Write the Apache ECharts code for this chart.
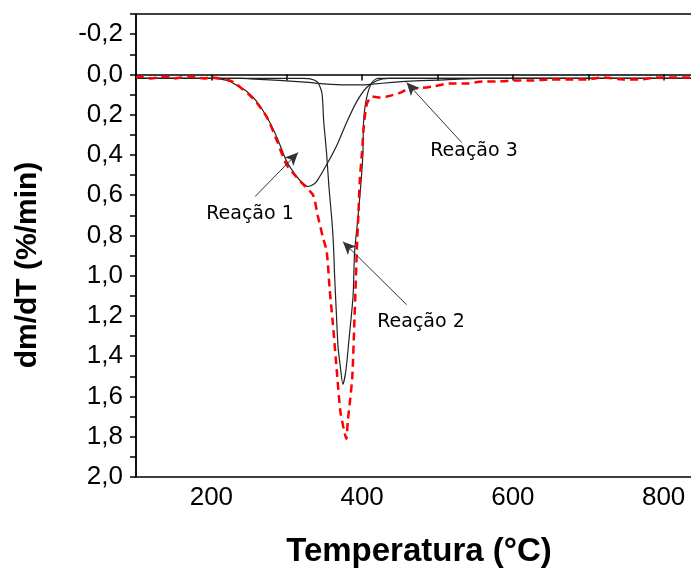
<!DOCTYPE html>
<html><head><meta charset="utf-8">
<script src="https://cdn.jsdelivr.net/npm/echarts@6/dist/echarts.min.js"></script>
<style>html,body{margin:0;padding:0;background:#fff}#c{width:691px;height:569px}</style>
</head><body><div id="c"></div>
<script>
// Experimental DTG (red dashed)
const expT = [100,110,120,130,140,150,160,170,180,190,200,210,220,230,242,250,260,274,287,300,313,324,335,341,348,353,357,361,367,371,375,379,381,384,387,390,393,395,397,400,402,406,413,424,433,450,463,470,494,516,539,560,580,605,627,649,676,698,719,746,768,791,812,836,860,900];
const expV = [0.015,0.01,0.02,0.015,0.01,0.02,0.015,0.01,0.015,0.02,0.015,0.02,0.025,0.04,0.075,0.10,0.14,0.215,0.33,0.45,0.51,0.555,0.60,0.70,0.81,0.88,1.07,1.23,1.50,1.67,1.75,1.81,1.72,1.62,1.50,1.20,0.87,0.70,0.52,0.38,0.27,0.15,0.11,0.115,0.11,0.092,0.07,0.07,0.06,0.045,0.045,0.035,0.035,0.03,0.03,0.025,0.025,0.025,0.015,0.025,0.025,0.015,0.015,0.015,0.015,0.015];
// Reação 1
const r1T = [100,200,211,225,236,247,260,274,287,300,314,321,328,334,340,353,367,380,393,406,420,435,900];
const r1V = [0.02,0.02,0.022,0.035,0.06,0.085,0.134,0.214,0.313,0.433,0.512,0.54,0.557,0.55,0.53,0.448,0.348,0.234,0.134,0.065,0.03,0.02,0.02];
// Reação 2
const r2T = [100,320,331,340,344,347,349,353,356,360,362,363.5,366,368,371,374.5,378.5,382.5,388,390,394,398,401,402,406,413,421,900];
const r2V = [0.02,0.02,0.022,0.035,0.06,0.10,0.23,0.40,0.56,0.73,0.85,1.0,1.2,1.35,1.45,1.54,1.47,1.32,1.10,0.88,0.73,0.56,0.40,0.23,0.115,0.04,0.02,0.02];
// Reação 3
const r3T = [100,240,251,290,329,350,377,400,414,440,457,500,558,900];
const r3V = [0.02,0.02,0.022,0.03,0.04,0.047,0.052,0.052,0.048,0.04,0.035,0.028,0.02,0.02];
// Annotations
const labels = ['Reação 1','Reação 2','Reação 3'];
const arrowFrom = [[258,0.607],[459,1.144],[532,0.338]];
const arrowTo = [[315,0.388],[374.5,0.831],[459,0.04]];

const zip = (a,b)=>a.map((x,i)=>[x,b[i]]);
const chart = echarts.init(document.getElementById('c'));
const blackLine = {type:'line',showSymbol:false,smooth:0.25,lineStyle:{color:'#222',width:1.2},z:3};
chart.setOption({
  animation:false,
  grid:{left:136,top:14,width:603,height:463,outerBoundsMode:'none',containLabel:false,show:true,borderColor:'#000',borderWidth:1.5},
  xAxis:{type:'value',min:100,max:900,interval:100,
    axisLine:{lineStyle:{color:'#000',width:1.5}},
    axisTick:{length:6,lineStyle:{color:'#000',width:1.5}},
    axisLabel:{margin:8,color:'#000',fontSize:26,fontFamily:'Liberation Sans',
      formatter:v=>(v%200===0&&v>=200)?String(v):''},
    splitLine:{show:false}},
  yAxis:{type:'value',inverse:true,min:-0.3,max:2.0,interval:0.1,
    axisLine:{lineStyle:{color:'#000',width:1.5}},
    axisTick:{length:6,lineStyle:{color:'#000',width:1.5}},
    axisLabel:{margin:13,color:'#000',fontSize:26,fontFamily:'Liberation Sans',
      formatter:v=>{const k=Math.round(v*10);if(k%2!==0)return '';return (k/10).toFixed(1).replace('.',',');}},
    splitLine:{show:false}},
  graphic:[
    {type:'text',x:419,y:552,style:{text:'Temperatura (°C)',font:'bold 33px "Liberation Sans"',fill:'#000',align:'center',verticalAlign:'middle'}},
    {type:'text',x:28,y:265,rotation:Math.PI/2,style:{text:'dm/dT (%/min)',font:'bold 30px "Liberation Sans"',fill:'#000',align:'center',verticalAlign:'middle'}},
    {type:'text',x:250,y:214,style:{text:labels[0],font:'19px "DejaVu Sans"',fill:'#000',align:'center',verticalAlign:'middle'}},
    {type:'text',x:421,y:322,style:{text:labels[1],font:'19px "DejaVu Sans"',fill:'#000',align:'center',verticalAlign:'middle'}},
    {type:'text',x:474,y:151,style:{text:labels[2],font:'19px "DejaVu Sans"',fill:'#000',align:'center',verticalAlign:'middle'}}
  ],
  series:[
    Object.assign({},blackLine,{name:'Reação 3',data:zip(r3T,r3V)}),
    Object.assign({},blackLine,{name:'Reação 1',data:zip(r1T,r1V)}),
    Object.assign({},blackLine,{name:'Reação 2',data:zip(r2T,r2V)}),
    {type:'line',name:'exp',showSymbol:false,smooth:0.25,data:zip(expT,expV),
      lineStyle:{color:'#ff0000',width:2.5,type:[8,5]},z:4,
      markLine:{silent:true,animation:false,symbol:['none','arrow'],symbolSize:[9,13],
        lineStyle:{color:'#333',width:1,type:'solid'},label:{show:false},
        data:arrowFrom.map((f,i)=>[{coord:f},{coord:arrowTo[i]}])}}
  ]
});
</script></body></html>
